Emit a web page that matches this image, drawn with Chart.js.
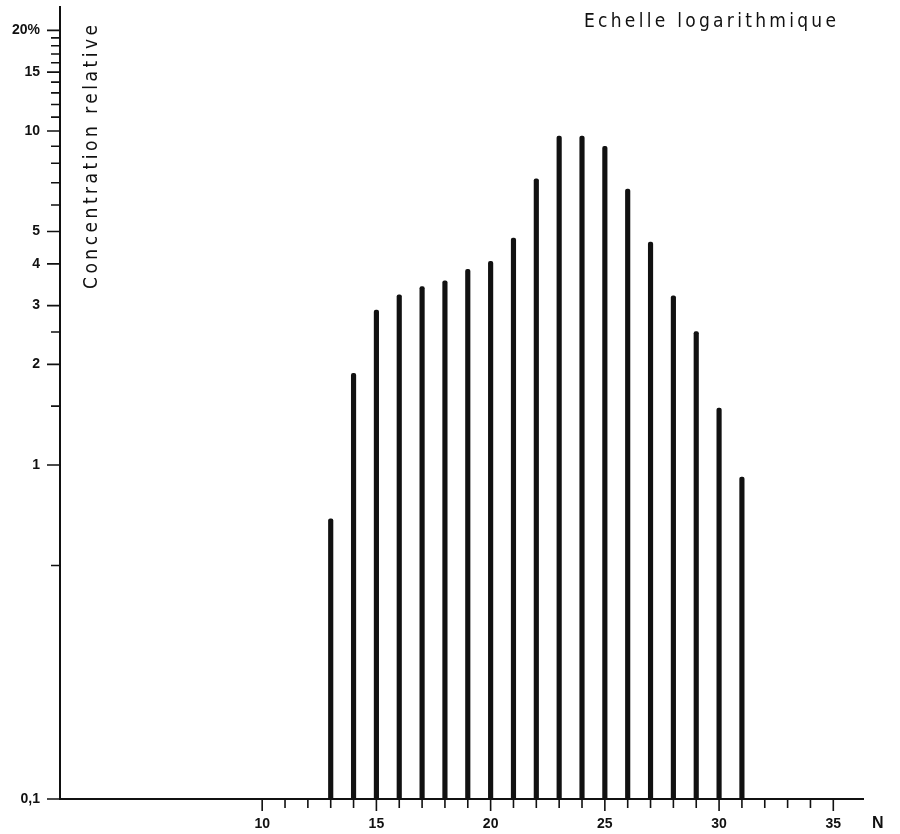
<!DOCTYPE html>
<html lang="fr">
<head>
<meta charset="UTF-8">
<title>Concentration relative - Echelle logarithmique</title>
<script src="https://cdn.jsdelivr.net/npm/chart.js"></script>
<style>
  html, body { margin: 0; padding: 0; background: #fff; }
  #wrap { width: 900px; height: 834px; }
</style>
</head>
<body>
<div id="wrap"><canvas id="chart"></canvas></div>
<script>
// nombre d'atomes de carbone N
const carbons = [13, 14, 15, 16, 17, 18, 19, 20, 21, 22, 23, 24, 25, 26, 27, 28, 29, 30, 31];
// concentration relative (%)
const concentration = [0.69, 1.88, 2.91, 3.23, 3.42, 3.56, 3.85, 4.07, 4.78, 7.19, 9.66, 9.66, 9.0, 6.7, 4.65, 3.21, 2.51, 1.48, 0.92];

const yMajor = [0.1, 1, 2, 3, 4, 5, 10, 15, 20];
const yMinor = [0.5, 1.5, 2.5, 6, 7, 8, 9, 11, 12, 13, 14, 16, 17, 18, 19];
const yLabels = { 0.1: '0,1', 20: '20%' };

const xMinor = [11, 12, 13, 14, 16, 17, 18, 19, 21, 22, 23, 24, 26, 27, 28, 29, 31, 32, 33, 34];
const xMajor = [10, 15, 20, 25, 30, 35];

const ink = '#111';
const labelFont = { family: '"Liberation Sans", Arial, sans-serif', size: 14, weight: 'bold' };

function spacedText(ctx, text, x, y, width) {
  ctx.letterSpacing = '0px';
  const natural = ctx.measureText(text).width;
  const gap = Math.max(0, (width - natural) / (text.length - 1));
  ctx.letterSpacing = gap + 'px';
  ctx.textAlign = 'left';
  ctx.fillText(text, x - width / 2, y);
  ctx.letterSpacing = '0px';
}

// petits traits de graduation + textes
const decor = {
  id: 'decor',
  afterDraw(chart) {
    const { ctx, chartArea, scales: { x, y } } = chart;
    ctx.save();
    ctx.strokeStyle = ink;
    ctx.lineWidth = 1.6;
    ctx.beginPath();
    yMajor.forEach(v => {
      const p = y.getPixelForValue(v);
      ctx.moveTo(chartArea.left - 13, p); ctx.lineTo(chartArea.left + 1, p);
    });
    yMinor.forEach(v => {
      const p = y.getPixelForValue(v);
      ctx.moveTo(chartArea.left - 9, p); ctx.lineTo(chartArea.left + 1, p);
    });
    xMajor.forEach(v => {
      const p = x.getPixelForValue(v);
      ctx.moveTo(p, chartArea.bottom); ctx.lineTo(p, chartArea.bottom + 12);
    });
    xMinor.forEach(v => {
      const p = x.getPixelForValue(v);
      ctx.moveTo(p, chartArea.bottom); ctx.lineTo(p, chartArea.bottom + 9);
    });
    ctx.stroke();

    ctx.fillStyle = ink;
    ctx.textBaseline = 'middle';
    ctx.fontStretch = 'condensed';
    ctx.font = '19px "DejaVu Sans Condensed", "DejaVu Sans", sans-serif';
    spacedText(ctx, 'Echelle logarithmique', 710, 22, 252);

    ctx.save();
    ctx.translate(chartArea.left + 32, 157);
    ctx.rotate(-Math.PI / 2);
    spacedText(ctx, 'Concentration relative', 0, 0, 264);
    ctx.restore();

    ctx.font = 'bold 16px "Liberation Sans", Arial, sans-serif';
    ctx.textAlign = 'left';
    ctx.fillText('N', chartArea.right + 9, chartArea.bottom + 25);
    ctx.restore();
  }
};

new Chart(document.getElementById('chart'), {
  type: 'bar',
  data: {
    datasets: [{
      data: carbons.map((n, i) => ({ x: n, y: concentration[i] })),
      backgroundColor: ink,
      borderWidth: 0,
      barThickness: 4.5,
      borderRadius: { topLeft: 2, topRight: 2 },
      borderSkipped: 'start'
    }]
  },
  options: {
    responsive: true,
    maintainAspectRatio: false,
    animation: false,
    layout: { padding: { top: 7, right: 37, left: 0, bottom: 0 } },
    plugins: { legend: { display: false }, tooltip: { enabled: false } },
    scales: {
      x: {
        type: 'linear',
        min: 1.15,
        max: 36.3,
        offset: false,
        afterBuildTicks: s => { s.ticks = xMajor.map(v => ({ value: v })); },
        afterFit: s => { s.height = 35; s.paddingLeft = 0; s.paddingRight = 0; },
        ticks: { color: ink, font: labelFont, padding: 17, maxRotation: 0, autoSkip: false },
        grid: { drawOnChartArea: false, drawTicks: false },
        border: { display: true, color: ink, width: 2 }
      },
      y: {
        type: 'logarithmic',
        min: 0.1,
        max: 23.5,
        afterBuildTicks: s => { s.ticks = yMajor.map(v => ({ value: v })); },
        afterFit: s => { s.width = 60; s.paddingTop = 0; s.paddingBottom = 0; },
        ticks: {
          color: ink,
          font: labelFont,
          padding: 20,
          autoSkip: false,
          callback: v => yLabels[v] || String(v)
        },
        grid: { drawOnChartArea: false, drawTicks: false },
        border: { display: true, color: ink, width: 2 }
      }
    }
  },
  plugins: [decor]
});
</script>
</body>
</html>
